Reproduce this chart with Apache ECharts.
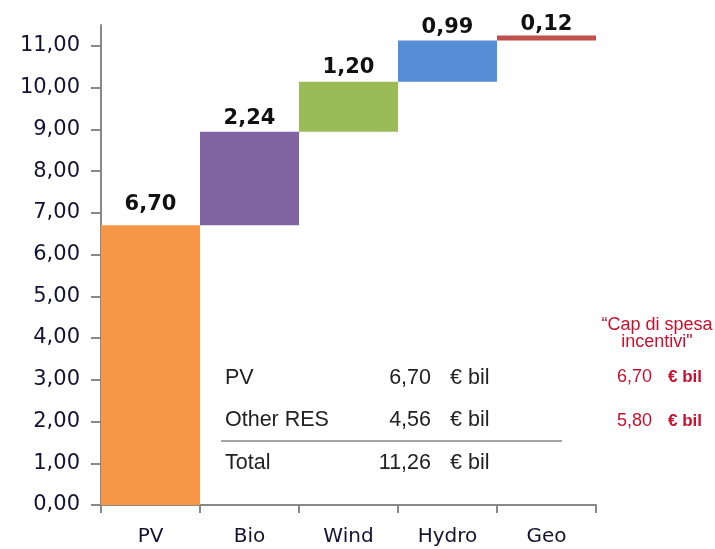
<!DOCTYPE html>
<html><head><meta charset="utf-8">
<script src="https://cdn.jsdelivr.net/npm/echarts@6/dist/echarts.min.js"></script>
<style>html,body{margin:0;padding:0;background:#fff}#c{width:715px;height:549px}</style>
</head><body><div id="c"></div>
<script>
const categories = ['PV', 'Bio', 'Wind', 'Hydro', 'Geo'];
const increments = [6.70, 2.24, 1.20, 0.99, 0.12];
const colors = ['#F79646', '#8064A2', '#9BBB59', '#558ED5', '#C0504D'];
const tableRows = [['PV', '6,70', '€ bil'], ['Other RES', '4,56', '€ bil'], ['Total', '11,26', '€ bil']];
const capTitle = ['\u201CCap di spesa', 'incentivi"'];
const capRows = [['6,70', '€ bil'], ['5,80', '€ bil']];

const bases = [];
let run = 0;
increments.forEach(v => { bases.push(+run.toFixed(2)); run += v; });
const fmt = v => v.toFixed(2).replace('.', ',');
const labelGap = [10, 3, 4, 2, 0];

const chart = echarts.init(document.getElementById('c'));
const tableFont = '21.5px "Liberation Sans", Arial, sans-serif';
const graphics = [];
const rowY = [378, 420, 463];
tableRows.forEach((r, i) => {
  graphics.push({type: 'text', x: 225, y: rowY[i], style: {text: r[0], font: tableFont, fill: '#222', textAlign: 'left', textVerticalAlign: 'middle'}});
  graphics.push({type: 'text', x: 431, y: rowY[i], style: {text: r[1], font: tableFont, fill: '#222', textAlign: 'right', textVerticalAlign: 'middle'}});
  graphics.push({type: 'text', x: 450, y: rowY[i], style: {text: r[2], font: tableFont, fill: '#222', textAlign: 'left', textVerticalAlign: 'middle'}});
});
graphics.push({type: 'line', shape: {x1: 221, y1: 441, x2: 562, y2: 441}, style: {stroke: '#888', lineWidth: 1.5}});
const redFont = '18px "Liberation Sans", Arial, sans-serif';
const redBold = 'bold 17px "Liberation Sans", Arial, sans-serif';
graphics.push({type: 'text', x: 657, y: 325, style: {text: capTitle[0], font: redFont, fill: '#C8102E', textAlign: 'center', textVerticalAlign: 'middle'}});
graphics.push({type: 'text', x: 657, y: 342, style: {text: capTitle[1], font: redFont, fill: '#C8102E', textAlign: 'center', textVerticalAlign: 'middle'}});
const capY = [377, 421];
capRows.forEach((r, i) => {
  graphics.push({type: 'text', x: 652, y: capY[i], style: {text: r[0], font: redFont, fill: '#C8102E', textAlign: 'right', textVerticalAlign: 'middle'}});
  graphics.push({type: 'text', x: 668, y: capY[i], style: {text: r[1], font: redBold, fill: '#C8102E', textAlign: 'left', textVerticalAlign: 'middle'}});
});

chart.setOption({
  animation: false,
  grid: {left: 101, right: 119, top: 25, bottom: 44},
  xAxis: {
    type: 'category', data: categories,
    axisLine: {lineStyle: {color: '#888', width: 2}},
    axisTick: {show: true, length: 8, lineStyle: {color: '#888', width: 2}},
    axisLabel: {margin: 22, fontSize: 20, color: '#141432', fontFamily: '"DejaVu Sans", sans-serif'}
  },
  yAxis: {
    type: 'value', min: 0, max: 11.5, interval: 1,
    splitLine: {show: false},
    axisLine: {show: true, lineStyle: {color: '#888', width: 2}},
    axisTick: {show: true, length: 10, lineStyle: {color: '#888', width: 2}},
    axisLabel: {showMaxLabel: false, margin: 21, fontSize: 21, color: '#141432', fontFamily: '"DejaVu Sans", sans-serif', formatter: v => fmt(v)}
  },
  series: [
    {type: 'bar', stack: 'w', data: bases, itemStyle: {color: 'transparent'}, barCategoryGap: '0%', silent: true},
    {type: 'bar', stack: 'w', barCategoryGap: '0%',
     data: increments.map((v, i) => ({value: v, itemStyle: {color: colors[i]}, label: {distance: labelGap[i]}})),
     label: {show: true, position: 'top', formatter: p => fmt(p.value),
             fontSize: 21, fontWeight: 'bold', color: '#111', fontFamily: '"DejaVu Sans", sans-serif'}}
  ],
  graphic: graphics
});
</script></body></html>
